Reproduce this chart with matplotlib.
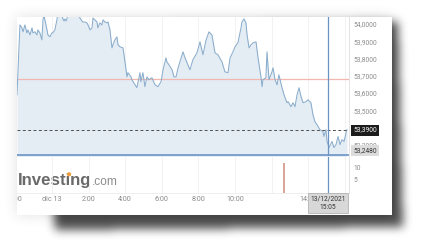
import numpy as np
import matplotlib
matplotlib.use("Agg")
import matplotlib.pyplot as plt
from matplotlib.path import Path
from matplotlib.patches import Rectangle, Circle
from matplotlib.transforms import Bbox

# intraday price, hours counted from midnight of 13 Dec 2021 (negatives = 12 Dec)
hours = [-1.91, -1.75, -1.64, -1.58, -1.48, -1.37, -1.31, -1.20, -1.09, -1.04,
         -0.93, -0.82, -0.77, -0.66, -0.55, -0.49, -0.44, -0.27, -0.22, -0.11,
         0.00, 0.05, 0.16, 0.27, 0.33, 0.44, 0.60, 0.66, 0.71, 0.77,
         0.82, 0.87, 1.09, 1.31, 1.53, 1.64, 1.69, 1.80, 1.91, 1.97,
         2.08, 2.19, 2.24, 2.35, 2.46, 2.51, 2.62, 2.73, 2.79, 2.90,
         3.01, 3.06, 3.17, 3.28, 3.33, 3.44, 3.55, 3.61, 3.72, 3.88,
         3.99, 4.10, 4.15, 4.32, 4.37, 4.54, 4.64, 4.81, 4.86, 4.97,
         5.08, 5.19, 5.30, 5.46, 5.63, 5.79, 5.96, 6.07, 6.23, 6.28,
         6.39, 6.56, 6.67, 6.78, 6.89, 7.16, 7.27, 7.43, 7.54, 7.70,
         7.92, 8.09, 8.25, 8.42, 8.58, 8.74, 8.91, 9.07, 9.29, 9.45,
         9.62, 9.73, 9.89, 10.00, 10.16, 10.33, 10.38, 10.49, 10.60, 10.66,
         10.77, 10.87, 10.98, 11.15, 11.26, 11.42, 11.48, 11.53, 11.69, 11.75,
         11.86, 12.02, 12.08, 12.19, 12.30, 12.40, 12.57, 12.68, 12.84, 12.90,
         13.06, 13.17, 13.28, 13.39, 13.50, 13.61, 13.72, 13.88, 13.99, 14.15,
         14.26, 14.37, 14.48, 14.64, 14.81, 14.86, 14.97, 15.03, 15.14, 15.30,
         15.41, 15.52, 15.63, 15.74, 15.85, 15.96, 16.07, 16.12]
prices = [53.595, 54.000, 53.983, 53.960, 54.000, 53.954, 53.971, 53.942, 53.983, 53.954,
          53.960, 53.942, 53.971, 53.954, 53.913, 54.029, 54.058, 53.971, 53.942, 53.931,
          53.954, 53.954, 53.971, 54.029, 54.075, 54.098, 54.035, 54.023, 54.035, 54.023,
          54.035, 54.087, 54.116, 54.098, 54.040, 54.023, 54.017, 54.017, 54.012, 54.000,
          53.971, 53.983, 54.040, 54.029, 54.017, 53.983, 54.012, 54.000, 54.029, 54.017,
          54.012, 54.017, 53.971, 53.867, 53.884, 53.913, 53.931, 53.884, 53.873, 53.867,
          53.786, 53.699, 53.723, 53.699, 53.682, 53.653, 53.636, 53.723, 53.671, 53.723,
          53.642, 53.699, 53.682, 53.694, 53.653, 53.642, 53.671, 53.740, 53.809, 53.786,
          53.769, 53.740, 53.699, 53.699, 53.751, 53.844, 53.809, 53.769, 53.740, 53.798,
          53.838, 53.902, 53.827, 53.913, 53.960, 53.942, 53.838, 53.827, 53.786, 53.728,
          53.723, 53.809, 53.844, 53.873, 53.896, 53.983, 54.017, 54.035, 54.012, 53.942,
          53.867, 53.884, 53.896, 53.902, 53.809, 53.699, 53.642, 53.682, 53.694, 53.844,
          53.682, 53.728, 53.751, 53.682, 53.653, 53.711, 53.636, 53.595, 53.549, 53.555,
          53.526, 53.549, 53.526, 53.595, 53.636, 53.584, 53.549, 53.555, 53.566, 53.549,
          53.480, 53.439, 53.422, 53.393, 53.382, 53.353, 53.393, 53.324, 53.289, 53.324,
          53.289, 53.306, 53.353, 53.306, 53.335, 53.324, 53.376, 53.393]

prev_close = 53.688
last_price = 53.39
low_price = 53.248
vol_hours = [12.68]
vol_values = [12.5]

price_ticks = [54.0, 53.9, 53.8, 53.7, 53.6, 53.5, 53.3]
vol_ticks = [10, 5]
time_ticks = [-2.1, 0, 2, 4, 6, 8, 10, 14]
time_labels = ["22:00", "dic 13", "2:00", "4:00", "6:00", "8:00", "10:00", "14:00"]
grid_hours = [-2, 0, 2, 4, 6, 8, 10, 12, 14, 16]
cursor_hour = 15 + 5 / 60
cursor_label = "13/12/2021\n15:05"

W, H = 423, 252
fig = plt.figure(figsize=(W / 100, H / 100), dpi=100)
fig.patch.set_facecolor("white")

bg = fig.add_axes([0, 0, 1, 1], zorder=0)
bg.set_xlim(0, W)
bg.set_ylim(H, 0)
bg.axis("off")


def blur(img, r, passes=3):
    # repeated box blur ~ gaussian
    for _ in range(passes):
        for axis in (0, 1):
            pad = [(0, 0), (0, 0)]
            pad[axis] = (r + 1, r)
            c = np.cumsum(np.pad(img, pad, mode="edge"), axis=axis)
            if axis == 0:
                img = (c[2 * r + 1:] - c[:-2 * r - 1]) / (2 * r + 1)
            else:
                img = (c[:, 2 * r + 1:] - c[:, :-2 * r - 1]) / (2 * r + 1)
    return img


yy, xx = np.mgrid[0:H, 0:W]
pts = np.column_stack([xx.ravel() + 0.5, yy.ravel() + 0.5])
shadow_poly = Path([(40, 26), (398, 22), (403, 227), (55, 230)])
card_poly = Path([(17, 17), (392, 17), (392, 215), (17, 215)])
m1 = shadow_poly.contains_points(pts).reshape(H, W).astype(float)
m2 = card_poly.contains_points(pts).reshape(H, W).astype(float)
shade = 0.85 * blur(m1, 4) + 0.15 * blur(m2, 6)
rgba = np.zeros((H, W, 4))
rgba[..., :3] = 0.2
rgba[..., 3] = np.clip(shade, 0, 1)
bg.imshow(rgba, extent=[0, W, H, 0], interpolation="bilinear", zorder=0)

card = Rectangle((17, 17), 375, 198, facecolor="white", edgecolor="none", zorder=1)
bg.add_patch(card)

# Investing.com logo
bg.text(18, 185, "Investing", fontsize=12.1, fontweight="bold", color="#6a6a6a",
        family="Liberation Sans", va="baseline", ha="left", zorder=3)
bg.text(92, 185, ".com", fontsize=8.6, color="#8c8c8c",
        family="Liberation Sans", va="baseline", ha="left", zorder=3)
bg.add_patch(Circle((69.1, 174.3), 1.4, color="#eea040", zorder=4))


def px_axes(x0, y0, x1, y1, z=2):
    return fig.add_axes([x0 / W, 1 - y1 / H, (x1 - x0) / W, (y1 - y0) / H], zorder=z)


xlim = (-1.91, 16.23)
line_col = "#8aadcc"
fill_col = "#e4ecf4"
tick_col = "#8a8a8a"

ax = px_axes(17, 17, 349, 156)
ax.set_facecolor("none")
ax.set_xlim(*xlim)
ax.set_ylim(53.240, 54.046)
ax.fill_between(hours, prices, 53.0, color=fill_col, lw=0, zorder=1)
ax.plot(hours, prices, color=line_col, lw=0.75, zorder=3)
for g in grid_hours:
    ax.axvline(g, color="#f0f0f0", lw=0.6, zorder=0.5)
ax.axhline(prev_close, color="#f2b7ae", lw=0.9, zorder=2)
ax.axhline(last_price, color="#505050", lw=0.7, ls=(0, (3, 2.5)), zorder=4)
ax.axhline(low_price, color="#5f8cc2", lw=1.1, zorder=4)
ax.axvline(cursor_hour, color="#6b93c2", lw=0.9, zorder=5)
ax.set_xticks([])
ax.set_yticks([])
for s in ("top", "left", "bottom"):
    ax.spines[s].set_visible(False)
ax.spines["right"].set_color("#dedede")
ax.spines["right"].set_linewidth(0.6)

yt = ax.get_yaxis_transform()
for v in price_ticks:
    ax.text(1.012, v, f"{v:.4f}".replace(".", ","), transform=yt, fontsize=4.8,
            color=tick_col, va="center", ha="left", family="Roboto", clip_on=False)
ax.text(1.012, last_price, f"{last_price:.4f}".replace(".", ","), transform=yt,
        fontsize=4.8, color="white", va="center", ha="left", family="Roboto",
        bbox=dict(boxstyle="square,pad=0.3", fc="#1c1c1c", ec="none"), zorder=6)
ax.text(1.012, low_price + 0.022, f"{low_price:.4f}".replace(".", ","), transform=yt,
        fontsize=4.8, color="#333333", va="center", ha="left", family="Roboto",
        bbox=dict(boxstyle="square,pad=0.3", fc="#dcdcdc", ec="none"), zorder=6)

vax = px_axes(17, 157, 349, 193)
vax.set_facecolor("none")
vax.set_xlim(*xlim)
vax.set_ylim(0, 15)
for g in grid_hours:
    vax.axvline(g, color="#f0f0f0", lw=0.6, zorder=0.5)
vax.bar(vol_hours, vol_values, width=0.07, color="#d9a69c", zorder=2)
vax.axvline(cursor_hour, color="#6b93c2", lw=0.9, zorder=5)
vax.set_xticks([])
vax.set_yticks([])
for s in ("top", "left"):
    vax.spines[s].set_visible(False)
vax.spines["right"].set_color("#dedede")
vax.spines["right"].set_linewidth(0.6)
vax.spines["bottom"].set_color("#ececec")
vax.spines["bottom"].set_linewidth(0.6)
vt = vax.get_yaxis_transform()
for v in vol_ticks:
    vax.text(1.012, v, str(v), transform=vt, fontsize=4.8, color=tick_col,
             va="center", ha="left", family="Roboto", clip_on=False)

# time labels are cut off at the card's left edge (display pixels, origin bottom-left)
card_box = Bbox.from_extents(17, 0, 392, H)
xt = vax.get_xaxis_transform()
for t, lab in zip(time_ticks, time_labels):
    txt = vax.text(t, -0.19, lab, transform=xt, fontsize=5.2, color=tick_col,
                   va="center", ha="center", family="Roboto", zorder=3)
    txt.set_clip_on(True)
    txt.set_clip_path(None)
    txt.set_clip_box(card_box)

vax.text(cursor_hour, -0.28, cursor_label, transform=xt, fontsize=4.8,
         color="#333333", va="center", ha="center", family="Roboto",
         linespacing=1.25, zorder=8,
         bbox=dict(boxstyle="square,pad=0.35", fc="#d8d8d8", ec="#a8a8a8", lw=0.5))

fig.savefig("out.png", dpi=100)
